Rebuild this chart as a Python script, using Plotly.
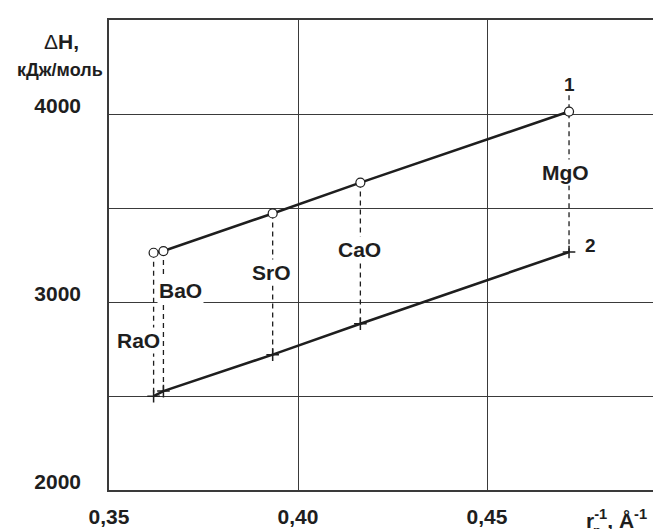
import plotly.graph_objects as go

compounds = ["RaO", "BaO", "SrO", "CaO", "MgO"]
inv_r = [0.3618, 0.3644, 0.3933, 0.4165, 0.4717]
dH_1 = [3262, 3271, 3471, 3635, 4013]
dH_2 = [2499, 2526, 2720, 2884, 3266]
dash_top = [3262, 3271, 3471, 3635, 4100]

label_x = [0.3578, 0.3689, 0.3930, 0.4163, 0.4707]
label_y = [2793, 3060, 3156, 3278, 3688]
curve_names = ["1", "2"]
curve_label_x = [0.4718, 0.4774]
curve_label_y = [4157, 3299]

x_ticks = [0.35, 0.40, 0.45]
x_ticktext = ["<b>0,35</b>", "<b>0,40</b>", "<b>0,45</b>"]
y_ticks = [2000, 2500, 3000, 3500, 4000, 4500]
y_ticktext = ["<b>2000</b>", "", "<b>3000</b>", "", "<b>4000</b>", ""]

FONT = "Liberation Sans, Arial, sans-serif"
INK = "#1e1e1e"

fig = go.Figure()

for xv, yt, yb in zip(inv_r, dash_top, dH_2):
    fig.add_trace(go.Scatter(x=[xv, xv], y=[yt, yb], mode="lines",
                             line=dict(color=INK, width=1.3, dash="5px,4px"),
                             hoverinfo="skip", showlegend=False))

fig.add_trace(go.Scatter(x=inv_r, y=dH_2, mode="lines+markers",
                         line=dict(color=INK, width=2.6),
                         marker=dict(symbol="cross-thin", size=9,
                                     line=dict(color=INK, width=1.5)),
                         showlegend=False))
fig.add_trace(go.Scatter(x=inv_r, y=dH_1, mode="lines+markers",
                         line=dict(color=INK, width=2.6),
                         marker=dict(symbol="circle", size=9, color="white",
                                     line=dict(color=INK, width=1.2)),
                         showlegend=False))

for name, lx, ly in zip(compounds, label_x, label_y):
    fig.add_annotation(x=lx, y=ly, text="<b>" + name + "</b>", showarrow=False,
                       font=dict(family=FONT, size=21, color=INK),
                       xanchor="center", yanchor="middle", bgcolor="white")
for name, lx, ly in zip(curve_names, curve_label_x, curve_label_y):
    fig.add_annotation(x=lx, y=ly, text="<b>" + name + "</b>", showarrow=False,
                       font=dict(family=FONT, size=19, color=INK),
                       xanchor="center", yanchor="middle")

# axis titles
fig.add_annotation(xref="paper", yref="paper", x=-0.084, y=1.0 - (33 - 12) / 470,
                   text="\u0394<b>H,</b>", showarrow=False,
                   font=dict(family=FONT, size=21, color=INK),
                   xanchor="center", yanchor="middle")
fig.add_annotation(xref="paper", yref="paper", x=-0.0875, y=1.0 - (62 - 12) / 470,
                   text="<b>кДж/моль</b>", showarrow=False,
                   font=dict(family=FONT, size=18, color=INK),
                   xanchor="center", yanchor="middle")
fig.add_annotation(xref="paper", yref="paper", x=(576 - 101) / 560, y=(482 - 511) / 470,
                   text="<b>r<sup>-1</sup>, Å<sup>-1</sup></b>", showarrow=False,
                   font=dict(family=FONT, size=21, color=INK),
                   xanchor="left", yanchor="middle")
fig.add_annotation(xref="paper", yref="paper", x=(589 - 101) / 560, y=(482 - 522) / 470,
                   text="<b>p</b>", showarrow=False,
                   font=dict(family=FONT, size=13, color=INK),
                   xanchor="center", yanchor="middle")

fig.update_layout(
    width=661, height=529,
    margin=dict(l=101, r=0, t=12, b=47),
    paper_bgcolor="white", plot_bgcolor="white",
    showlegend=False,
)
fig.update_xaxes(range=[0.35, 0.35 + 560 / 3780], tickvals=x_ticks, ticktext=x_ticktext,
                 showgrid=True, gridcolor="#3a3a3a", gridwidth=1.3,
                 showline=True, linecolor="#3a3a3a", linewidth=1.6, mirror=True,
                 ticks="", ticklabelstandoff=7, zeroline=False,
                 tickfont=dict(family=FONT, size=21, color=INK))
fig.update_yaxes(range=[2000, 4500], tickvals=y_ticks, ticktext=y_ticktext,
                 showgrid=True, gridcolor="#3a3a3a", gridwidth=1.3,
                 showline=True, linecolor="#3a3a3a", linewidth=1.6, mirror=False,
                 ticks="", ticklabelstandoff=22, ticklabelshift=-8, zeroline=False,
                 tickfont=dict(family=FONT, size=21, color=INK))

fig.write_html("out.html")
